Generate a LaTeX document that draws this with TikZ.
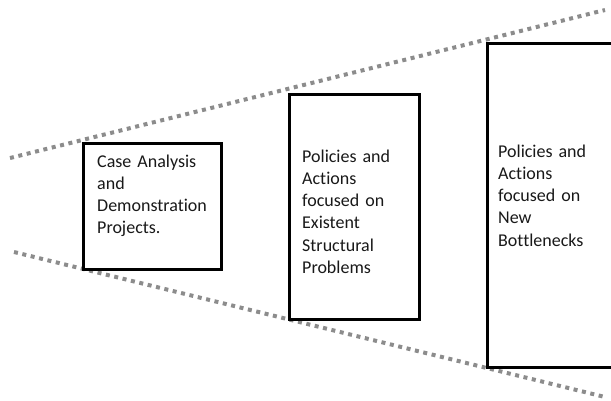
\documentclass[tikz,border=0pt]{standalone}
\usepackage{fontspec}
\setmainfont[Ligatures={NoCommon}]{Carlito}
\begin{document}
\begin{tikzpicture}[x=1pt,y=-1pt,
  box/.style={draw=black, line width=3pt, fill=white, anchor=north west, inner sep=0pt},
  lbl/.style={anchor=base west, inner sep=0pt, text width=140pt, align=left,
    font=\fontsize{18}{22.3}\selectfont, text=black!90},
  dots/.style={draw=black!45, line width=4pt, dash pattern=on 4pt off 4.6pt}]
\clip (0,0) rectangle (611,400);
\fill[white] (0,0) rectangle (611,400);
\coordinate (u1) at (10,158);
\coordinate (u2) at (605,10);
\coordinate (l1) at (14,252);
\coordinate (l2) at (605,397);
\draw[dots] (u1) -- (u2);
\draw[dots] (l1) -- (l2);
\node[box, minimum width=138pt, minimum height=126pt] (b1) at (82,142) {};
\node[box, minimum width=130pt, minimum height=225pt] (b2) at (288,93) {};
\node[box, minimum width=170pt, minimum height=324pt] (b3) at (486,42) {};
\node[lbl] (t1) at (97,167) {Case Analysis\\and\\Demonstration\\Projects.};
\node[lbl] (t2) at (302,162) {Policies and\\Actions\\focused on\\Existent\\Structural\\Problems};
\node[lbl] (t3) at (498,157) {Policies and\\Actions\\focused on\\New\\Bottlenecks};
\end{tikzpicture}
\end{document}
